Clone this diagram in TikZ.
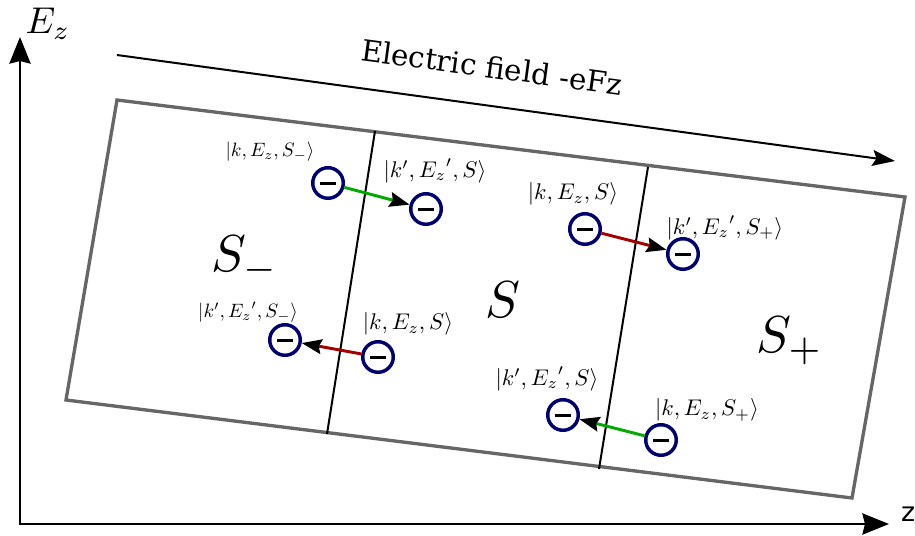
\documentclass[tikz,border=0pt]{standalone}
\usepackage{graphicx}
\usepackage{fontspec}
\newfontfamily\fieldfont{DejaVu Serif}
\newfontfamily\axisfont{DejaVu Sans}
\usetikzlibrary{arrows.meta}
\definecolor{framegray}{RGB}{102,102,102}
\definecolor{elnavy}{RGB}{0,0,110}
\definecolor{hopgreen}{RGB}{0,170,0}
\definecolor{hopred}{RGB}{165,0,0}
\newcommand{\statetext}[1]{\scalebox{1.7}{$#1$}}
\newcommand{\smallstatetext}[1]{\scalebox{1.45}{$#1$}}
\newcommand{\regiontext}[1]{\scalebox{3.9}{$#1$}}
\begin{document}
\begin{tikzpicture}[x=0.75pt,y=-0.75pt,
  axisline/.style={line width=1.5pt,-{Stealth[length=20pt,width=16pt,inset=2pt]}},
  fieldarrow/.style={line width=1.5pt,-{Stealth[length=17pt,width=12pt,inset=3pt]}},
  framestyle/.style={draw=framegray,line width=2.5pt,line join=miter},
  divider/.style={line width=1.5pt},
  electron/.style={circle,draw=elnavy,line width=2.6pt,minimum size=22.9pt,inner sep=0pt},
  hop/.style={line width=2.2pt,-{Stealth[length=15pt,width=11pt,inset=2pt,black]}},
  statelabel/.style={inner sep=0pt},
  fieldlabel/.style={inner sep=0pt,font=\fieldfont\fontsize{22}{26}\selectfont},
]
\useasboundingbox (0,0) rectangle (915,536);
% axes
\coordinate (origin) at (20,524);
\coordinate (ztip) at (889,524);
\coordinate (etip) at (20,37);
\draw[axisline] (origin) -- (ztip);
\draw[axisline] ([yshift=-0.75pt]origin) -- (etip);
\node[inner sep=0pt] (ezlab) at (48,24) {\scalebox{2.8}{$E_z$}};
\node[inner sep=0pt,font=\axisfont\fontsize{20}{24}\selectfont] (zlab) at (908,514) {z};
% electric field
\coordinate (fstart) at (117,55);
\coordinate (fend) at (895,161);
\draw[fieldarrow] (fstart) -- (fend);
\node[fieldlabel,rotate=-7.7] (ftext) at (492,67) {Electric field -eFz};
% frame
\coordinate (c1) at (117,100);
\coordinate (c2) at (905,197);
\coordinate (c3) at (852,498);
\coordinate (c4) at (66,400);
\draw[framestyle] (c1) -- (c2) -- (c3) -- (c4) -- cycle;
% dividers
\coordinate (d1t) at (375,131);
\coordinate (d1b) at (327,434);
\coordinate (d2t) at (648,167);
\coordinate (d2b) at (599,469);
\draw[divider] (d1t) -- (d1b);
\draw[divider] (d2t) -- (d2b);
% region labels
\node[statelabel] (rminus) at (245,260) {\regiontext{S_-}};
\node[statelabel] (rzero) at (503,300) {\regiontext{S}};
\node[statelabel] (rplus) at (790,341) {\regiontext{S_+}};
% electrons
\node[electron] (e1) at (328,183) {\rule{12pt}{2.25pt}};
\node[electron] (e2) at (426,209) {\rule{12pt}{2.25pt}};
\node[electron] (e3) at (585,229) {\rule{12pt}{2.25pt}};
\node[electron] (e4) at (683,254) {\rule{12pt}{2.25pt}};
\node[electron] (e5) at (285,340) {\rule{12pt}{2.25pt}};
\node[electron] (e6) at (378,357) {\rule{12pt}{2.25pt}};
\node[electron] (e7) at (563,415) {\rule{12pt}{2.25pt}};
\node[electron] (e8) at (661,440) {\rule{12pt}{2.25pt}};
% hops
\draw[hop,hopgreen] (e1) -- (e2);
\draw[hop,hopred] (e3) -- (e4);
\draw[hop,hopred] (e6) -- (e5);
\draw[hop,hopgreen] (e8) -- (e7);
% state labels
\node[statelabel] (l1) at (270,152) {\smallstatetext{|k, E_z, S_-\rangle}};
\node[statelabel] (l2) at (435,171) {\statetext{|k', {E_z}', S\rangle}};
\node[statelabel] (l3) at (573,194) {\statetext{|k, E_z, S\rangle}};
\node[statelabel] (l4) at (725,228) {\statetext{|k', {E_z}', S_+\rangle}};
\node[statelabel] (l5) at (248,312) {\smallstatetext{|k', {E_z}', S_-\rangle}};
\node[statelabel] (l6) at (408,324) {\statetext{|k, E_z, S\rangle}};
\node[statelabel] (l7) at (547,379) {\statetext{|k', {E_z}', S\rangle}};
\node[statelabel] (l8) at (707,410) {\statetext{|k, E_z, S_+\rangle}};
\end{tikzpicture}
\end{document}
